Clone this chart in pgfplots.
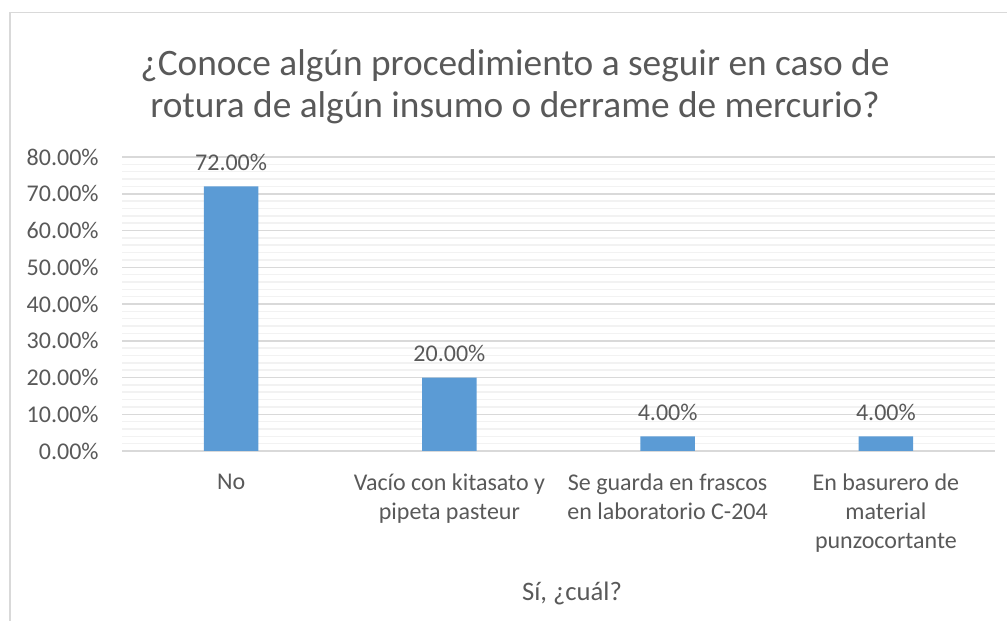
\documentclass[border=0pt]{standalone}
\usepackage{pgfplots}
\pgfplotsset{compat=1.18}
\usepackage{fontspec}
\setmainfont{Carlito}
\definecolor{barblue}{HTML}{5B9BD5}
\definecolor{txt}{HTML}{595959}
\definecolor{gmaj}{HTML}{D9D9D9}
\definecolor{gmin}{HTML}{F2F2F2}
\def\u{0.375pt}
\begin{document}
\begin{tikzpicture}
\useasboundingbox (0,0) rectangle ({1007*\u},{-621*\u});
\draw[gmaj, line width={1.5*\u}] ({10*\u},{-630*\u}) -- ({10*\u},{-12.5*\u}) -- ({1020*\u},{-12.5*\u});
\node[txt, align=center, font=\fontsize{14}{15.75}\selectfont] at ({515*\u},{-87*\u})
  {¿Conoce algún procedimiento a seguir en caso de\\rotura de algún insumo o derrame de mercurio?};
\begin{axis}[
  at={({122*\u},{-451*\u})}, anchor=south west,
  scale only axis, width={873*\u}, height={294*\u},
  xmin=-0.5, xmax=3.5, ymin=0, ymax=80,
  ytick={0,10,...,80}, minor y tick num=4,
  ymajorgrids, yminorgrids,
  major grid style={gmaj, line width={1.5*\u}},
  minor grid style={gmin, line width={1.5*\u}},
  axis line style={draw=none}, tick style={draw=none},
  /pgf/number format/assume math mode=true,
  yticklabel={\pgfmathprintnumber[fixed,fixed zerofill,precision=2]{\tick}\%},
  yticklabel style={txt, font=\fontsize{9}{10.9}\selectfont, xshift={-14*\u}},
  xtick={0,1,2,3},
  xticklabels={No, Vacío con kitasato y\\pipeta pasteur, Se guarda en frascos\\en laboratorio C-204, En basurero de\\material\\punzocortante},
  xticklabel style={txt, align=center, font=\fontsize{9}{10.9}\selectfont, yshift={-2*\u}},
  ybar, bar width={54.4*\u},
  nodes near coords={\pgfmathprintnumber[fixed,fixed zerofill,precision=2]{\pgfplotspointmeta}\%},
  nodes near coords style={txt, font=\fontsize{9}{10.9}\selectfont, yshift={6*\u}},
  clip=false,
]
\addplot[fill=barblue, draw=none] coordinates {(0,72) (1,20) (2,4) (3,4)};
\end{axis}
\node[txt, font=\fontsize{10}{12}\selectfont] at ({572*\u},{-593*\u}) {Sí, ¿cuál?};
\end{tikzpicture}
\end{document}
